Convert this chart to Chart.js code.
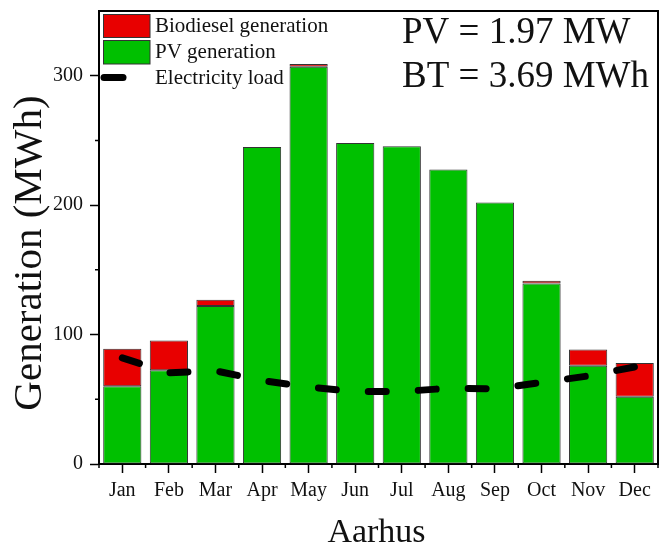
<!DOCTYPE html>
<html>
<head>
<meta charset="utf-8">
<script src="https://cdn.jsdelivr.net/npm/chart.js@4.4.1/dist/chart.umd.min.js"></script>
<style>
  html, body { margin: 0; padding: 0; background: #fff; }
  #wrap { width: 659px; height: 551px; }
</style>
</head>
<body>
<div id="wrap"><canvas id="myChart" width="659" height="551"></canvas></div>
<script>
// monthly data, Aarhus (MWh)
var months = ['Jan', 'Feb', 'Mar', 'Apr', 'May', 'Jun', 'Jul', 'Aug', 'Sep', 'Oct', 'Nov', 'Dec'];
var pvGen = [60, 72.5, 122, 245, 307, 248, 245.5, 227.5, 202, 139.5, 76, 52];
var bioGen = [29, 23, 5, 0, 2, 0, 0, 0, 0, 2, 12.5, 26];
var load = [82, 70.5, 72, 64.5, 59.5, 56, 56, 58.5, 58, 63, 68, 75];
var yTicks = [0, 100, 200, 300];

var SERIF = '"Liberation Serif", "Times New Roman", serif';

// legend, annotation, axis titles, minor ticks, frame
var extras = {
  id: 'extras',
  afterDraw: function (chart) {
    var ctx = chart.ctx;
    var a = chart.chartArea;
    var x = chart.scales.x, y = chart.scales.y;
    ctx.save();

    // top + right frame
    ctx.strokeStyle = '#000';
    ctx.lineWidth = 2;
    ctx.beginPath();
    ctx.moveTo(a.left, a.top);
    ctx.lineTo(a.right, a.top);
    ctx.lineTo(a.right, a.bottom);
    ctx.stroke();

    // minor ticks
    ctx.lineWidth = 1.5;
    ctx.beginPath();
    var band = (x.getPixelForValue(1) - x.getPixelForValue(0));
    for (var i = 0; i <= months.length; i++) {
      var px = x.getPixelForValue(i) - band / 2;
      ctx.moveTo(px, a.bottom);
      ctx.lineTo(px, a.bottom + 4);
    }
    [50, 150, 250].forEach(function (v) {
      var py = y.getPixelForValue(v);
      ctx.moveTo(a.left, py);
      ctx.lineTo(a.left - 4, py);
    });
    ctx.stroke();

    // legend
    var ds = chart.data.datasets;
    ctx.font = '21px ' + SERIF;
    ctx.textBaseline = 'middle';
    ctx.textAlign = 'left';
    ctx.lineWidth = 1;
    ctx.strokeStyle = '#333';
    ctx.fillStyle = ds[1].backgroundColor;
    ctx.fillRect(103.5, 14.5, 46.5, 23);
    ctx.strokeRect(103.5, 14.5, 46.5, 23);
    ctx.fillStyle = ds[0].backgroundColor;
    ctx.fillRect(103.5, 40.5, 46.5, 23.5);
    ctx.strokeRect(103.5, 40.5, 46.5, 23.5);
    ctx.strokeStyle = '#000';
    ctx.lineWidth = 7;
    ctx.lineCap = 'round';
    ctx.beginPath();
    ctx.moveTo(104, 77.5);
    ctx.lineTo(123, 77.5);
    ctx.stroke();
    ctx.fillStyle = '#111';
    ctx.fillText(ds[1].label, 155, 26);
    ctx.fillText(ds[0].label, 155, 52);
    ctx.fillText(ds[2].label, 155, 78);

    // annotation
    ctx.font = '37px ' + SERIF;
    ctx.textBaseline = 'alphabetic';
    ctx.fillText('PV = 1.97 MW', 402, 43);
    ctx.fillText('BT = 3.69 MWh', 402, 87);

    // axis titles
    ctx.font = '34px ' + SERIF;
    ctx.textAlign = 'center';
    ctx.fillText('Aarhus', (a.left + a.right) / 2 - 2, 542);
    ctx.save();
    ctx.translate(41, 253);
    ctx.rotate(-Math.PI / 2);
    ctx.font = '41px ' + SERIF;
    ctx.fillText('Generation (MWh)', 0, 0);
    ctx.restore();

    ctx.restore();
  }
};

var ctx = document.getElementById('myChart').getContext('2d');
var myChart = new Chart(ctx, {
  type: 'bar',
  data: {
    labels: months,
    datasets: [
      {
        label: 'PV generation',
        data: pvGen,
        backgroundColor: '#00C000',
        borderColor: '#333',
        borderWidth: 1,
        borderSkipped: false,
        stack: 'gen',
        barPercentage: 0.82,
        categoryPercentage: 1,
        order: 2
      },
      {
        label: 'Biodiesel generation',
        data: bioGen,
        backgroundColor: '#E80000',
        borderColor: '#333',
        borderWidth: 1,
        borderSkipped: false,
        stack: 'gen',
        barPercentage: 0.82,
        categoryPercentage: 1,
        order: 2
      },
      {
        type: 'line',
        label: 'Electricity load',
        data: load,
        borderColor: '#000',
        borderWidth: 7,
        borderDash: [18, 32],
        borderCapStyle: 'round',
        pointRadius: 0,
        fill: false,
        stack: 'load',
        order: 1
      }
    ]
  },
  options: {
    responsive: false,
    animation: false,
    events: [],
    layout: { padding: { left: 0, right: 1, top: 11, bottom: 0 } },
    plugins: {
      legend: { display: false },
      tooltip: { enabled: false }
    },
    scales: {
      x: {
        stacked: true,
        grid: { drawOnChartArea: false, tickLength: 9, tickColor: '#000', tickWidth: 1.5, offset: false },
        border: { color: '#000', width: 2 },
        ticks: { color: '#111', font: { family: SERIF, size: 20 }, padding: 6, maxRotation: 0 },
        afterFit: function (s) { s.height = 87; s.paddingLeft = 0; s.paddingRight = 0; }
      },
      y: {
        stacked: true,
        min: 0,
        max: 350,
        afterBuildTicks: function (s) {
          s.ticks = yTicks.map(function (v) { return { value: v }; });
        },
        grid: { drawOnChartArea: false, tickLength: 9, tickColor: '#000', tickWidth: 1.5 },
        border: { color: '#000', width: 2 },
        ticks: { color: '#111', font: { family: SERIF, size: 20 }, padding: 7 },
        afterFit: function (s) { s.width = 99; s.paddingTop = 0; s.paddingBottom = 0; }
      }
    }
  },
  plugins: [extras]
});
</script>
</body>
</html>
